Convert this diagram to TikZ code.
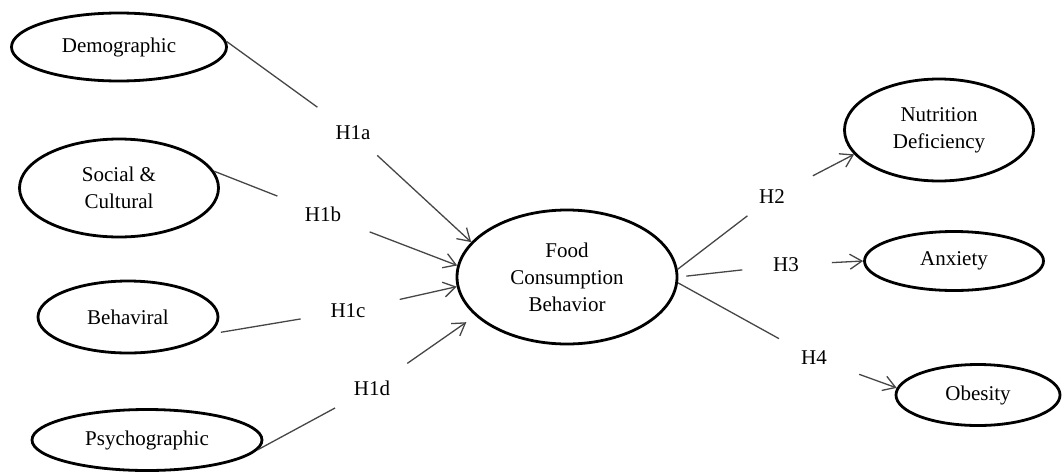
\documentclass[tikz,border=0pt]{standalone}
\usepackage{fontspec}
\setmainfont{Liberation Serif}
\usetikzlibrary{shapes.geometric,arrows.meta}
\definecolor{linkgray}{RGB}{70,70,70}

\begin{document}
\begin{tikzpicture}[x=1pt, y=-1pt, >={Straight Barb[length=12pt,width=15pt]}, font=\fontsize{21}{27}\selectfont]
  \tikzstyle{construct}=[ellipse,draw=black,line width=2.8pt,align=center,inner sep=0pt]
  \tikzstyle{hyp}=[inner sep=0pt]
  \tikzstyle{link}=[draw=linkgray,line width=1.3pt]
  \useasboundingbox (0,0) rectangle (1062,474);

  \node[construct,minimum width=215pt,minimum height=68pt] (demo) at (119,47) {Demographic};
  \node[construct,minimum width=199pt,minimum height=98pt] (soc) at (119,188) {Social \&\\Cultural};
  \node[construct,minimum width=180pt,minimum height=72pt] (beh) at (128,317) {Behaviral};
  \node[construct,minimum width=230pt,minimum height=61pt] (psy) at (147,440) {Psychographic};
  \node[construct,minimum width=220pt,minimum height=134pt] (fcb) at (567,277) {Food\\Consumption\\Behavior};
  \node[construct,minimum width=189pt,minimum height=102pt] (nut) at (939,130) {Nutrition\\Deficiency};
  \node[construct,minimum width=179pt,minimum height=59pt] (anx) at (954,261) {Anxiety};
  \node[construct,minimum width=164pt,minimum height=61pt] (obe) at (978,395) {Obesity};

  \node[hyp] (h1a) at (353,133) {H1a};
  \node[hyp] (h1b) at (323,214) {H1b};
  \node[hyp] (h1c) at (348,311) {H1c};
  \node[hyp] (h1d) at (372,388) {H1d};
  \node[hyp] (h2) at (772,197) {H2};
  \node[hyp] (h3) at (786,265) {H3};
  \node[hyp] (h4) at (814,358) {H4};

  \draw[link,shorten >=44pt] (demo.3) -- (h1a.center);
  \draw[link,->,shorten <=33pt] (h1a.center) -- (fcb.160);
  \draw[link,shorten >=49pt] (soc.10) -- (h1b.center);
  \draw[link,->,shorten <=50pt] (h1b.center) -- (fcb.174);
  \draw[link,shorten <=12pt,shorten >=48pt] (beh.-12) -- (h1c.center);
  \draw[link,->,shorten <=53pt] (h1c.center) -- (fcb.185);
  \draw[link,shorten >=42pt] (psy.-5) -- (h1d.center);
  \draw[link,->,shorten <=43pt,shorten >=11pt] (h1d.center) -- (fcb.203);
  \draw[link,shorten >=31pt] (fcb.4) -- (h2.center);
  \draw[link,->,shorten <=46pt] (h2.center) -- (nut.196);
  \draw[link,shorten <=8pt,shorten >=44pt] (fcb.east) -- (h3.center);
  \draw[link,->,shorten <=46pt] (h3.center) -- (anx.west);
  \draw[link,shorten >=40pt] (fcb.-3) -- (h4.center);
  \draw[link,->,shorten <=48pt] (h4.center) -- (obe.175);
\end{tikzpicture}
\end{document}
